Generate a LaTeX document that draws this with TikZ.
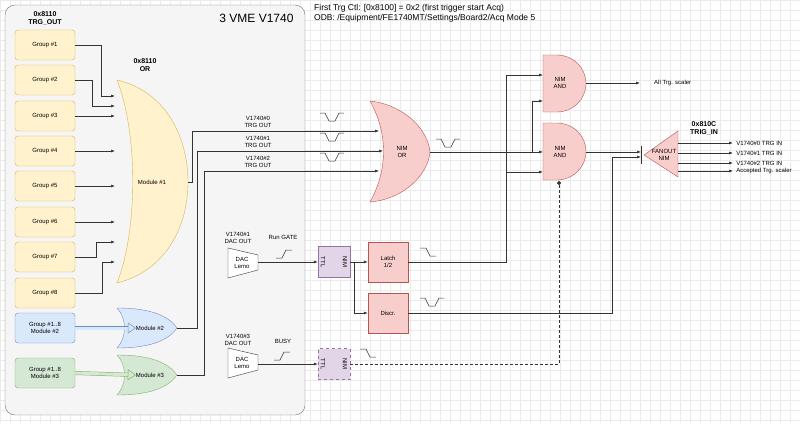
\documentclass[tikz,border=0pt]{standalone}
\usepackage{fontspec}
\setmainfont{Liberation Sans}
\usetikzlibrary{arrows.meta,positioning}
\definecolor{yfill}{HTML}{FFF2CC}\definecolor{ydraw}{HTML}{D6B656}
\definecolor{bfill}{HTML}{DAE8FC}\definecolor{bdraw}{HTML}{6C8EBF}
\definecolor{gfill}{HTML}{D5E8D4}\definecolor{gdraw}{HTML}{82B366}
\definecolor{rfill}{HTML}{F8CECC}\definecolor{rdraw}{HTML}{B85450}
\definecolor{pfill}{HTML}{E1D5E7}\definecolor{pdraw}{HTML}{9673A6}
\definecolor{lead}{HTML}{333333}
\tikzset{
  txt/.style={font=\fontsize{6}{7}\selectfont, align=center, inner sep=0pt},
  group/.style={txt, draw=ydraw, fill=yfill, rounded corners=3pt, minimum width=60pt, minimum height=30pt},
  nimbox/.style={txt, draw=rdraw, fill=rfill, minimum width=40pt, minimum height=40pt},
  conv/.style={draw=pdraw, fill=pfill, minimum width=32pt, minimum height=31pt, inner sep=0pt},
  wire/.style={draw=lead, line width=0.6pt},
  arr/.style={wire, -{Latex[length=4pt,width=3pt]}},
  pulse/.style={draw=lead, line width=0.5pt},
  bold/.style={font=\bfseries\fontsize{7}{8}\selectfont, align=center, inner sep=0pt}
}
\begin{document}
\begin{tikzpicture}[x=1pt, y=-1pt]
  \useasboundingbox (0,0) rectangle (800,423);
  % Grid
  \foreach \x in {0,10,...,800}
    \draw[black!8, line width=0.3pt] (\x,0) -- (\x,423);
  \foreach \y in {0,10,...,420}
    \draw[black!8, line width=0.3pt] (0,\y) -- (800,\y);
  % Panel
  \draw[black!55, fill=black!4, rounded corners=10pt] (5,5) rectangle (305,415);
  \node[font=\fontsize{12}{14}\selectfont, anchor=east] (title) at (297,18) {3 VME V1740};
  \node[bold] (trgout) at (45,18) {0x8110\\TRG\_OUT};
  \node[font=\fontsize{8.5}{10}\selectfont, anchor=north west, align=left, inner sep=0pt] (ctl) at (314,4)
    {First Trg Ctl: [0x8100] = 0x2 (first trigger start Acq)\\ODB: /Equipment/FE1740MT/Settings/Board2/Acq Mode 5};
  % Groups
  \foreach \i/\y in {1/45,2/80,3/116,4/151,5/186,6/222,7/257,8/293}
    \node[group] (g\i) at (45,\y) {Group \#\i};
  \node[group, draw=bdraw, fill=bfill] (gm2) at (45,328) {Group \#1..8\\Module \#2};
  \node[group, draw=gdraw, fill=gfill] (gm3) at (45,373) {Group \#1..8\\Module \#3};
  % OR of module 1
  \draw[ydraw, fill=yfill] (117,80) .. controls (168,92) and (188,140) .. (188,182)
    .. controls (188,224) and (168,270) .. (117,283) .. controls (138,230) and (138,133) .. (117,80);
  \node[txt] (mod1) at (152,182) {Module \#1};
  \node[bold] (or8110) at (145,65) {0x8110\\OR};
  \draw[bdraw, fill=bfill] (117,308) .. controls (155,308) and (170,318) .. (177,328)
    .. controls (170,338) and (155,348) .. (117,348) .. controls (127,338) and (127,318) .. (117,308);
  \node[txt] (mod2) at (150,328) {Module \#2};
  \draw[gdraw, fill=gfill] (117,355) .. controls (155,355) and (170,365) .. (177,375)
    .. controls (170,385) and (155,395) .. (117,395) .. controls (127,385) and (127,365) .. (117,355);
  \node[txt] (mod3) at (150,375) {Module \#3};
  \foreach \n/\y in {a/96,b/106,c/116,d/151,e/186,f/222,h/242,i/262}
    \coordinate (m1\n) at (115,\y);
  \draw[arr] (g1.east) -| (101,96) -- (m1a);
  \draw[arr] (g2.east) -| (92,106) -- (m1b);
  \draw[arr] (g3.east) -- (m1c);
  \draw[arr] (g4.east) -- (m1d);
  \draw[arr] (g5.east) -- (m1e);
  \draw[arr] (g6.east) -- (m1f);
  \draw[arr] (g7.east) -| (96,242) -- (m1h);
  \draw[arr] (g8.east) -| (102,262) -- (m1i);
  \draw[bdraw, double=bfill, double distance=3pt, line width=0.5pt, -{Triangle[open,length=8pt,width=11pt]}] (gm2.east) -- (mod2.west);
  \draw[gdraw, double=gfill, double distance=3pt, line width=0.5pt, -{Triangle[open,length=8pt,width=11pt]}] (gm3.east) -- (mod3.west);
  % NIM OR
  \draw[rdraw, fill=rfill] (370,101) .. controls (405,105) and (428,130) .. (430,152)
    .. controls (428,174) and (405,199) .. (370,202) .. controls (388,170) and (388,133) .. (370,101);
  \node[txt] (nimor) at (402,152) {NIM\\OR};
  \coordinate (or0) at (379,131); \coordinate (or1) at (383,151); \coordinate (or2) at (379,171);
  \coordinate (m1out) at (188,182); \coordinate (m2out) at (177,328); \coordinate (m3out) at (177,375);
  \draw[arr] (m1out) -- (192,182) |- (or0);
  \draw[arr] (m2out) -- (197,328) |- (or1);
  \draw[arr] (m3out) -- (204,375) |- (or2);
  \node[txt] (lab0) at (258,122) {V1740\#0\\TRG OUT};
  \node[txt] (lab1) at (258,142) {V1740\#1\\TRG OUT};
  \node[txt] (lab2) at (258,162) {V1740\#2\\TRG OUT};
  \foreach \y in {113,133,153}
    \draw[pulse] (320,\y) -- ++(5,0) -- ++(4,8) -- ++(6,0) -- ++(4,-8) -- ++(5,0);
  \draw[pulse] (436,139) -- ++(5,0) -- ++(4,8) -- ++(6,0) -- ++(4,-8) -- ++(5,0);
  % AND gates
  \draw[rdraw, fill=rfill] (543,55) -- (557,55) arc[start angle=-90, end angle=90, x radius=29, y radius=28.5] -- (543,112) -- cycle;
  \node[txt] (and1) at (560,83) {NIM\\AND};
  \draw[rdraw, fill=rfill] (543,123) -- (557,123) arc[start angle=-90, end angle=90, x radius=29, y radius=28.5] -- (543,180) -- cycle;
  \node[txt] (and2) at (560,152) {NIM\\AND};
  \coordinate (a1in0) at (543,75); \coordinate (a1in1) at (543,101);
  \coordinate (a2in0) at (543,152); \coordinate (a2in1) at (543,172);
  \coordinate (a2veto) at (559,181);
  \coordinate (orout) at (430,152);
  \draw[arr] (orout) -- (a2in0);
  \draw[arr] (532,152) |- (a1in1);
  \node[txt, anchor=west] (allscaler) at (654,83) {All Trg. scaler};
  \draw[arr] (586,83) -- (640,83);
  % Fanout
  \draw[rdraw, fill=rfill] (644,155) -- (678,131) -- (678,177) -- cycle;
  \node[txt] (fanout) at (664,155) {FANOUT\\NIM};
  \draw[lead, line width=0.6pt] (641,146) -- (641,164);
  \node[bold] (trgin) at (704,128) {0x810C\\TRIG\_IN};
  \coordinate (fin0) at (641,152); \coordinate (fin1) at (641,157);
  \draw[arr] (586,152) -- (fin0);
  \foreach \y/\t in {143/V1740\#0 TRG IN,153/V1740\#1 TRG IN,163/V1740\#2 TRG IN,171/Accepted Trg. scaler}
    \draw[arr] (678,\y) -- (733,\y) node[txt, right=3pt] {\t};
  % DAC outputs
  \draw[black!80, fill=white] (228,248) -- (258,255) -- (258,270) -- (228,278) -- cycle;
  \node[txt] (dac1) at (242,263) {DAC\\Lemo};
  \node[txt] (dac1lab) at (238,238) {V1740\#1\\DAC OUT};
  \node[txt] (rungate) at (283,237) {Run GATE};
  \draw[pulse] (276,258) -- ++(6,0) -- ++(4,-8) -- ++(6,0);
  \draw[black!80, fill=white] (228,348) -- (258,355) -- (258,370) -- (228,378) -- cycle;
  \node[txt] (dac3) at (242,363) {DAC\\Lemo};
  \node[txt] (dac3lab) at (238,340) {V1740\#3\\DAC OUT};
  \node[txt] (busy) at (283,341) {BUSY};
  \draw[pulse] (274,360) -- ++(6,0) -- ++(4,-8) -- ++(6,0);
  % TTL to NIM
  \node[conv] (ttl1) at (334,262) {};
  \node[txt, rotate=-90] at (323,262) {TTL};
  \node[txt, rotate=-90] at (345,262) {NIM};
  \node[conv, dashed] (ttl2) at (334,364) {};
  \node[txt, rotate=-90] at (323,364) {TTL};
  \node[txt, rotate=-90] at (345,364) {NIM};
  \draw[arr] (258,262) -- (ttl1.west);
  \draw[arr] (258,364) -- (ttl2.west);
  \node[nimbox] (latch) at (388,262) {Latch\\1/2};
  \node[nimbox] (discr) at (388,313) {Discr.};
  \draw[arr] (ttl1.east) -- (latch.west);
  \draw[arr] (354,262) |- (discr.west);
  \draw[pulse] (420,248) -- ++(6,0) -- ++(4,8) -- ++(6,0);
  \draw[pulse] (420,298) -- ++(5,0) -- ++(4,8) -- ++(6,0) -- ++(4,-8) -- ++(5,0);
  \draw[pulse] (360,349) -- ++(6,0) -- ++(4,8) -- ++(6,0);
  \draw[arr] (latch.east) -| (506,75) -- (a1in0);
  \draw[arr] (506,172) -- (a2in1);
  \draw[arr] (discr.east) -| (612,157) -- (fin1);
  \draw[wire, dash pattern=on 3pt off 2pt, -{Circle[length=4pt]}] (ttl2.east) -| (a2veto);
\end{tikzpicture}
\end{document}
